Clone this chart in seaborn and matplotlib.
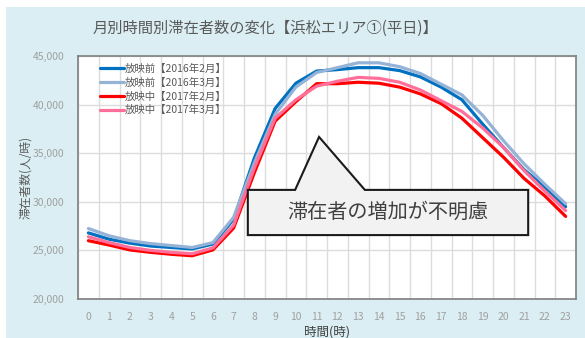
import matplotlib
matplotlib.use("Agg")
import matplotlib.pyplot as plt
from matplotlib.patches import Polygon, Rectangle
from matplotlib.ticker import FuncFormatter, MultipleLocator
import numpy as np
import pandas as pd
import seaborn as sns

# Hourly visitor counts (people per hour), weekday, Hamamatsu area 1
hours = list(range(24))
series_labels = [
    "放映前【2016年2月】",
    "放映前【2016年3月】",
    "放映中【2017年2月】",
    "放映中【2017年3月】",
]
pre_2016_feb = [26800, 26150, 25750, 25450, 25300, 25150, 25650, 28200, 34500, 39600, 42200, 43450,
                43600, 43800, 43800, 43500, 42850, 41800, 40500, 38000, 35600, 33300, 31500, 29500]
pre_2016_mar = [27250, 26500, 26000, 25700, 25500, 25300, 25800, 28400, 34000, 39000, 41800, 43300,
                43800, 44300, 44300, 43900, 43200, 42100, 41000, 38900, 36300, 33900, 31800, 29800]
dur_2017_feb = [26000, 25550, 25050, 24800, 24600, 24450, 25050, 27300, 33000, 38300, 40300, 42150,
                42150, 42300, 42200, 41800, 41100, 40100, 38600, 36600, 34600, 32400, 30600, 28500]
dur_2017_mar = [26400, 25800, 25300, 25000, 24800, 24650, 25250, 27600, 33500, 38600, 40500, 41900,
                42400, 42800, 42700, 42300, 41500, 40400, 39300, 37600, 35600, 33200, 31100, 29100]
series_values = [pre_2016_feb, pre_2016_mar, dur_2017_feb, dur_2017_mar]
series_colors = ["#0070c0", "#95b3d7", "#ff0000", "#ff6f99"]

title = "月別時間別滞在者数の変化【浜松エリア①(平日)】"
y_label = "滞在者数(人/時)"
x_label = "時間(時)"
callout_text = "滞在者の増加が不明慮"

df = pd.concat(
    [pd.DataFrame({"hour": hours, "count": vals, "series": lab})
     for lab, vals in zip(series_labels, series_values)],
    ignore_index=True,
)

sns.set_theme(style="white")
plt.rcParams["font.family"] = ["Noto Sans CJK JP", "DejaVu Sans"]

fig = plt.figure(figsize=(5.85, 3.38), dpi=100)
fig.patch.set_facecolor("white")
# light blue chart panel
fig.patches.append(Rectangle((6 / 585, 0), 1 - 6 / 585, 1 - 7 / 338,
                             transform=fig.transFigure, facecolor="#daeef3",
                             edgecolor="none", zorder=-10))

ax = fig.add_axes([78 / 585, 39 / 338, 498 / 585, 243 / 338])
ax.set_facecolor("white")

sns.lineplot(data=df, x="hour", y="count", hue="series", hue_order=series_labels,
             palette=series_colors, linewidth=2.3, ax=ax, legend=True)

ax.set_xlim(-0.5, 23.5)
ax.set_ylim(20000, 45000)
ax.set_xticks(hours)
ax.xaxis.set_minor_locator(MultipleLocator(1, offset=0.5))
ax.yaxis.set_major_locator(MultipleLocator(5000))
ax.yaxis.set_major_formatter(FuncFormatter(lambda v, p: f"{int(v):,}"))
ax.grid(False)
ax.grid(axis="x", which="minor", color="#dcdcdc", linewidth=1.0)
ax.grid(axis="y", which="major", color="#dcdcdc", linewidth=1.0)
ax.set_axisbelow(True)
ax.tick_params(axis="both", which="both", length=0, labelsize=7.5, colors="#a0a0a0")
ax.tick_params(axis="x", pad=9)
ax.tick_params(axis="y", pad=10)
for sp in ax.spines.values():
    sp.set_color("#7f7f7f")
    sp.set_linewidth(1.2)

ax.set_xlabel(x_label, fontsize=9, color="#404040", labelpad=3)
ax.set_ylabel(y_label, fontsize=8.5, color="#595959", labelpad=0)

leg = ax.legend(loc="upper left", bbox_to_anchor=(0.035, 0.985), frameon=False,
                fontsize=7.5, handlelength=2.3, handletextpad=0.1, labelspacing=0.35,
                borderaxespad=0)
for t in leg.get_texts():
    t.set_color("#595959")

fig.text(265 / 585, 1 - 28 / 338, title, ha="center", va="center",
         fontsize=11, color="#595959")

# callout with pointer
bx0, bx1, by0, by1 = 0.341, 0.904, 0.263, 0.449
tip = (0.484, 0.667)
base_l, base_r = 0.436, 0.576
pts = [(bx0, by0), (bx1, by0), (bx1, by1), (base_r, by1), tip, (base_l, by1), (bx0, by1)]
ax.add_patch(Polygon(pts, closed=True, transform=ax.transAxes, facecolor="#f2f2f2",
                     edgecolor="#1a1a1a", linewidth=1.5, zorder=10))
ax.text((bx0 + bx1) / 2, (by0 + by1) / 2, callout_text, transform=ax.transAxes,
        ha="center", va="center", fontsize=14.5, color="#404040", zorder=11)

fig.savefig("out.png", dpi=100)
